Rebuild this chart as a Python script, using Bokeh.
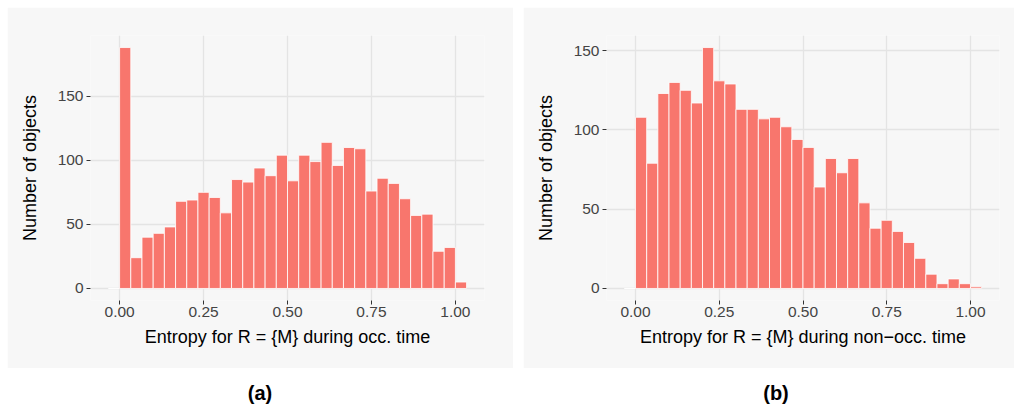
from bokeh.plotting import figure
from bokeh.models import Range1d, FixedTicker, NumeralTickFormatter, Div
from bokeh.layouts import row, column
from bokeh.embed import file_html
from bokeh.resources import INLINE

# ---- data ----
bin_width = 1 / 30
bin_index = list(range(-1, 31))  # bins [-1/30,0), [0,1/30), ..., [1,31/30)
counts_occ = [0, 188, 24, 40, 43, 48, 68, 69, 75, 71, 59, 85, 83, 94, 88, 104,
              84, 104, 99, 114, 96, 110, 109, 76, 86, 82, 70, 57, 58, 29, 32, 5]
counts_nonocc = [0, 108, 79, 123, 130, 125, 117, 152, 131, 129, 113, 113, 107, 108,
                 102, 94, 89, 64, 82, 73, 82, 54, 38, 43, 36, 29, 19, 9, 3, 6, 3, 1]
x_ticks = [0.0, 0.25, 0.5, 0.75, 1.0]
y_ticks = [0, 50, 100, 150]
x_label_a = "Entropy for R = {M} during occ. time"
x_label_b = "Entropy for R = {M} during non\u2212occ. time"
y_label = "Number of objects"
captions = ["(a)", "(b)"]

BG = "#F7F7F7"
BAR = "#F8766D"
GRID = "#E4E4E4"
FONT = "Liberation Sans"


def make_panel(counts, xlabel, width, right_border, margin):
    lefts = [i * bin_width for i in bin_index]
    rights = [(i + 1) * bin_width for i in bin_index]
    xmin, xmax = lefts[0], rights[-1]
    xpad = 0.05 * (xmax - xmin)
    ymax = max(counts)
    ypad = 0.05 * ymax
    p = figure(width=width, height=361, output_backend="svg", toolbar_location=None,
               x_range=Range1d(xmin - xpad, xmax + xpad),
               y_range=Range1d(-ypad, ymax + ypad),
               min_border_left=83, min_border_right=right_border,
               min_border_top=28, min_border_bottom=68,
               background_fill_color=BG, border_fill_color=BG,
               outline_line_color=None, margin=margin)
    p.quad(left=lefts, right=rights, top=counts, bottom=[0] * len(counts),
           fill_color=BAR, line_color="white", line_width=0.8)
    p.xaxis.ticker = FixedTicker(ticks=x_ticks)
    p.yaxis.ticker = FixedTicker(ticks=y_ticks)
    p.xaxis.formatter = NumeralTickFormatter(format="0.00")
    for ax in (p.xaxis[0], p.yaxis[0]):
        ax.axis_line_color = None
        ax.major_tick_line_color = "#333333"
        ax.major_tick_out = 4
        ax.major_tick_in = 0
        ax.minor_tick_line_color = None
        ax.major_label_text_font = FONT
        ax.major_label_text_font_size = "15.5px"
        ax.major_label_text_color = "#444444"
        ax.axis_label_text_font = FONT
        ax.axis_label_text_font_size = "18px"
        ax.axis_label_text_font_style = "normal"
        ax.axis_label_text_color = "#000000"
    p.xaxis.axis_label = xlabel
    p.yaxis.axis_label = y_label
    p.xaxis.major_label_standoff = 2
    p.xaxis.axis_label_standoff = 7
    p.yaxis.major_label_standoff = 3
    p.yaxis.axis_label_standoff = 15
    p.xgrid.grid_line_color = GRID
    p.ygrid.grid_line_color = GRID
    p.xgrid.grid_line_width = 1.3
    p.ygrid.grid_line_width = 1.3
    return p


pa = make_panel(counts_occ, x_label_a, 506, 29, (7, 0, 0, 7))
pb = make_panel(counts_nonocc, x_label_b, 491, 15, (7, 0, 0, 10))

cap_style = {"font-family": FONT, "font-weight": "bold", "font-size": "20px",
             "text-align": "center", "width": "100%", "color": "#000000"}
da = Div(text=captions[0], width=506, height=30, margin=(11, 0, 0, 7), styles=cap_style)
db = Div(text=captions[1], width=506, height=30, margin=(11, 0, 0, 10), styles=cap_style)

layout = column(row(pa, pb), row(da, db))
open("out.html", "w").write(file_html(layout, INLINE))
